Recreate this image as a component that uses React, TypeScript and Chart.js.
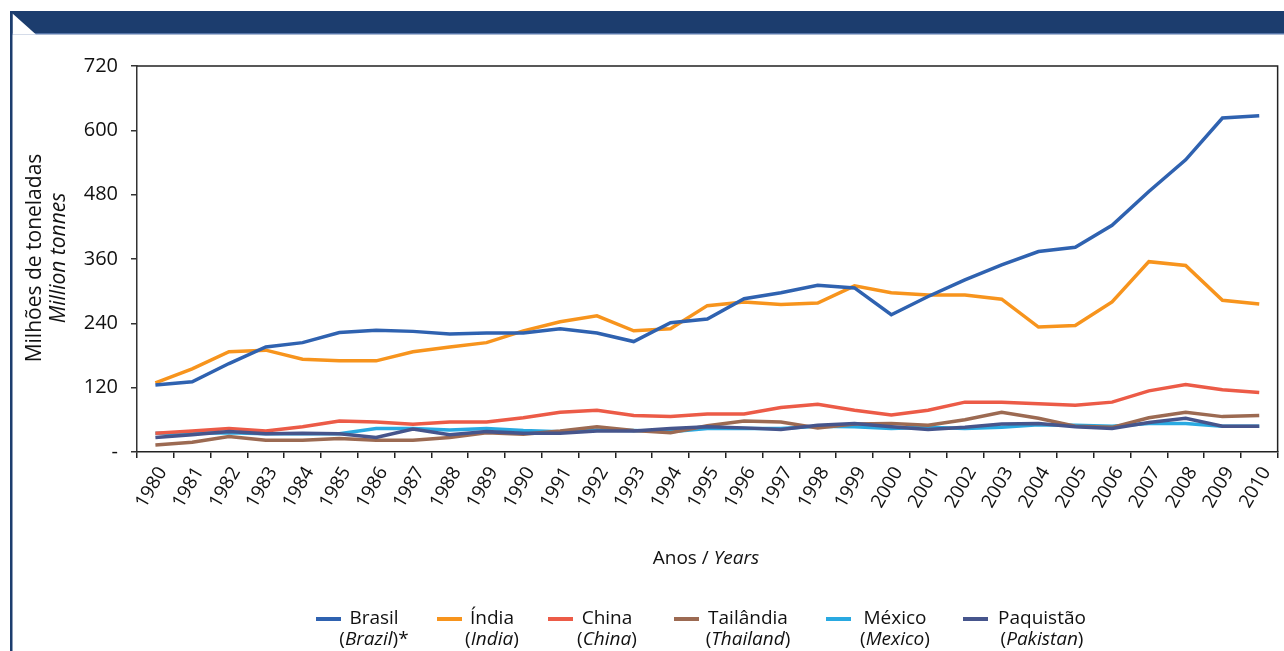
import React, { useEffect, useRef } from "react";
import { Chart, registerables } from "chart.js";

Chart.register(...registerables);

const YEARS = [
  "1980", "1981", "1982", "1983", "1984", "1985", "1986", "1987", "1988", "1989",
  "1990", "1991", "1992", "1993", "1994", "1995", "1996", "1997", "1998", "1999",
  "2000", "2001", "2002", "2003", "2004", "2005", "2006", "2007", "2008", "2009", "2010",
];

const BRASIL = [125, 131, 165, 196, 204, 223, 227, 225, 220, 222, 222, 230, 222, 206, 241, 248, 286, 297, 311, 306, 256, 290, 321, 349, 374, 382, 423, 486, 545, 623, 627];
const INDIA = [129, 155, 187, 190, 173, 170, 170, 187, 196, 204, 226, 243, 254, 226, 230, 273, 280, 275, 278, 310, 297, 293, 293, 285, 233, 236, 280, 355, 348, 283, 276];
const CHINA = [35, 39, 44, 39, 47, 58, 56, 52, 56, 56, 64, 74, 78, 68, 66, 71, 71, 83, 89, 78, 69, 78, 93, 93, 90, 87, 93, 114, 126, 116, 111];
const THAILAND = [13, 18, 29, 22, 22, 25, 22, 22, 27, 36, 33, 39, 47, 40, 36, 49, 58, 56, 45, 52, 53, 50, 60, 74, 63, 48, 46, 64, 74, 66, 68];
const MEXICO = [35, 35, 36, 34, 34, 34, 44, 44, 41, 44, 40, 38, 41, 40, 38, 44, 44, 44, 48, 47, 44, 46, 44, 46, 51, 50, 48, 53, 53, 48, 48];
const PAKISTAN = [27, 32, 38, 34, 35, 34, 27, 43, 32, 38, 35, 35, 39, 39, 44, 47, 45, 42, 50, 53, 47, 42, 46, 52, 53, 47, 44, 55, 63, 48, 48];

const Y_TICKS = [0, 120, 240, 360, 480, 600, 720];

const SERIES_PT = ["Brasil", "Índia", "China", "Tailândia", "México", "Paquistão"];
const SERIES_EN = ["Brazil", "India", "China", "Thailand", "Mexico", "Pakistan"];
const SERIES_SUFFIX = ["*", "", "", "", "", ""];
const COLORS = ["#2f62b0", "#f7941d", "#ec5b47", "#9c6a52", "#29a9e1", "#46558c"];
const SERIES_VALUES = [BRASIL, INDIA, CHINA, THAILAND, MEXICO, PAKISTAN];
const DRAW_ORDER = [2, 3, 4, 5, 6, 1];

// legend layout (pixels): sample line left, text column centre
const LEGEND_SAMPLE_LEFT = [316, 437, 548, 674, 826, 963];
const LEGEND_TEXT_CENTER = [374, 492, 607, 748, 895, 1042];

const FONT = "'Open Sans', 'Noto Sans', sans-serif";

const framePlugin = {
  id: "frame",
  afterDatasetsDraw(chart: any) {
    const { ctx, chartArea } = chart;
    ctx.save();
    ctx.strokeStyle = "#222";
    ctx.lineWidth = 1.5;
    ctx.beginPath();
    ctx.moveTo(chartArea.left, chartArea.top);
    ctx.lineTo(chartArea.right, chartArea.top);
    ctx.lineTo(chartArea.right, chartArea.bottom);
    ctx.stroke();
    ctx.restore();
  },
};

export default function App() {
  const canvasRef = useRef<HTMLCanvasElement | null>(null);

  useEffect(() => {
    if (!canvasRef.current) return;
    const chart = new Chart(canvasRef.current, {
      type: "line",
      data: {
        labels: YEARS,
        datasets: SERIES_PT.map((name, i) => ({
          label: name,
          data: SERIES_VALUES[i],
          borderColor: COLORS[i],
          backgroundColor: COLORS[i],
          borderWidth: 3.5,
          pointRadius: 0,
          tension: 0,
          fill: false,
          order: DRAW_ORDER[i],
        })),
      },
      options: {
        responsive: false,
        animation: false,
        layout: { padding: { left: 0, top: 66, right: 1, bottom: 0 } },
        plugins: {
          legend: { display: false },
          tooltip: { enabled: false },
          title: { display: false },
        },
        scales: {
          x: {
            type: "category",
            offset: true,
            afterFit: (scale: any) => {
              scale.height = 199;
            },
            border: { display: true, color: "#222", width: 1.5 },
            grid: {
              offset: true,
              drawOnChartArea: false,
              drawTicks: true,
              tickLength: 6,
              tickColor: "#222",
              lineWidth: 1.5,
            },
            ticks: {
              autoSkip: false,
              maxRotation: 60,
              minRotation: 60,
              padding: 5,
              labelOffset: 7,
              color: "#111",
              font: { family: FONT, size: 19 },
            },
          },
          y: {
            min: 0,
            max: 720,
            afterFit: (scale: any) => {
              scale.width = 137;
            },
            afterBuildTicks: (scale: any) => {
              scale.ticks = Y_TICKS.map((v) => ({ value: v }));
            },
            border: { display: true, color: "#333", width: 1.5 },
            grid: {
              drawOnChartArea: false,
              drawTicks: true,
              tickLength: 6,
              tickColor: "#333",
              lineWidth: 1.5,
            },
            ticks: {
              padding: 13,
              color: "#111",
              font: { family: FONT, size: 20 },
              callback: (v: any) => (Number(v) === 0 ? "-" : String(v)),
            },
          },
        },
      },
      plugins: [framePlugin],
    });
    return () => chart.destroy();
  }, []);

  return (
    <div
      style={{
        position: "absolute",
        left: 0,
        top: 0,
        width: 1284,
        height: 651,
        background: "#fff",
        overflow: "hidden",
        fontFamily: FONT,
        color: "#111",
      }}
    >
      <svg
        width={1284}
        height={651}
        style={{ position: "absolute", left: 0, top: 0 }}
      >
        <rect x={10} y={11} width={1274} height={23} fill="#1c3d6e" />
        <rect x={10} y={33} width={1274} height={1.5} fill="#5675a8" />
        <polygon points="12.5,13.5 36,34.5 12.5,34.5" fill="#ffffff" />
        <rect x={10} y={11} width={2.5} height={640} fill="#1c3d6e" />
      </svg>
      <canvas
        ref={canvasRef}
        width={1284}
        height={651}
        style={{ position: "absolute", left: 0, top: 0, width: 1284, height: 651 }}
      />
      <div
        style={{
          position: "absolute",
          left: 45,
          top: 258,
          width: 320,
          transform: "translate(-50%, -50%) rotate(-90deg)",
          textAlign: "center",
          fontSize: 21,
          lineHeight: "24px",
          whiteSpace: "nowrap",
        }}
      >
        <div>Milhões de toneladas</div>
        <div style={{ fontStyle: "italic" }}>Million tonnes</div>
      </div>
      <div
        style={{
          position: "absolute",
          left: 706,
          top: 557,
          transform: "translate(-50%, -50%)",
          fontSize: 19,
          whiteSpace: "nowrap",
        }}
      >
        Anos / <span style={{ fontStyle: "italic" }}>Years</span>
      </div>
      {SERIES_PT.map((name, i) => (
        <React.Fragment key={name}>
          <div
            style={{
              position: "absolute",
              left: LEGEND_SAMPLE_LEFT[i],
              top: 617,
              width: 25,
              height: 3.5,
              background: COLORS[i],
            }}
          />
          <div
            style={{
              position: "absolute",
              left: LEGEND_TEXT_CENTER[i],
              top: 607,
              transform: "translateX(-50%)",
              textAlign: "center",
              fontSize: 19,
              lineHeight: "21px",
              whiteSpace: "nowrap",
            }}
          >
            <div>{name}</div>
            <div>
              (<span style={{ fontStyle: "italic" }}>{SERIES_EN[i]}</span>){SERIES_SUFFIX[i]}
            </div>
          </div>
        </React.Fragment>
      ))}
    </div>
  );
}
